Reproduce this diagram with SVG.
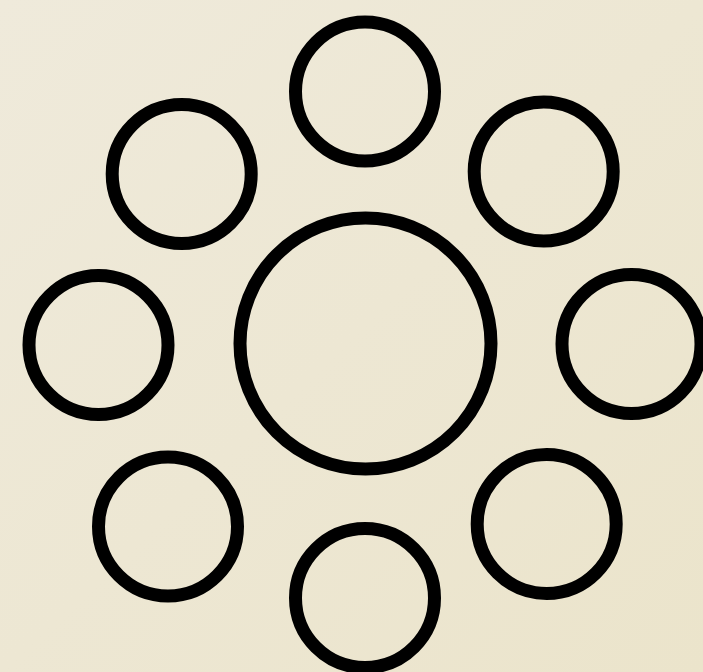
<svg xmlns="http://www.w3.org/2000/svg" width="703" height="672" viewBox="0 0 703 672">
  <defs>
    <linearGradient id="bg" x1="0" y1="0" x2="1" y2="1">
      <stop offset="0" stop-color="#efeadb"/>
      <stop offset="1" stop-color="#ebe4cb"/>
    </linearGradient>
    <style>
      .ring { fill: none; stroke: #000000; stroke-width: 13; }
    </style>
  </defs>
  <rect x="0" y="0" width="703" height="672" fill="url(#bg)"/>
  <g id="center"><circle class="ring" cx="365.5" cy="343.5" r="125.5"/></g>
  <g id="top"><circle class="ring" cx="365" cy="91.5" r="69.5"/></g>
  <g id="top-right"><circle class="ring" cx="543.7" cy="171.5" r="69.5"/></g>
  <g id="right"><circle class="ring" cx="631.5" cy="344" r="69.5"/></g>
  <g id="bottom-right"><circle class="ring" cx="546.7" cy="524" r="69.5"/></g>
  <g id="bottom"><circle class="ring" cx="365" cy="598" r="69.5"/></g>
  <g id="bottom-left"><circle class="ring" cx="168" cy="526.5" r="69.5"/></g>
  <g id="left"><circle class="ring" cx="98.5" cy="345" r="69.5"/></g>
  <g id="top-left"><circle class="ring" cx="181.7" cy="174" r="69.5"/></g>
  <g id="connectors"></g>
</svg>
